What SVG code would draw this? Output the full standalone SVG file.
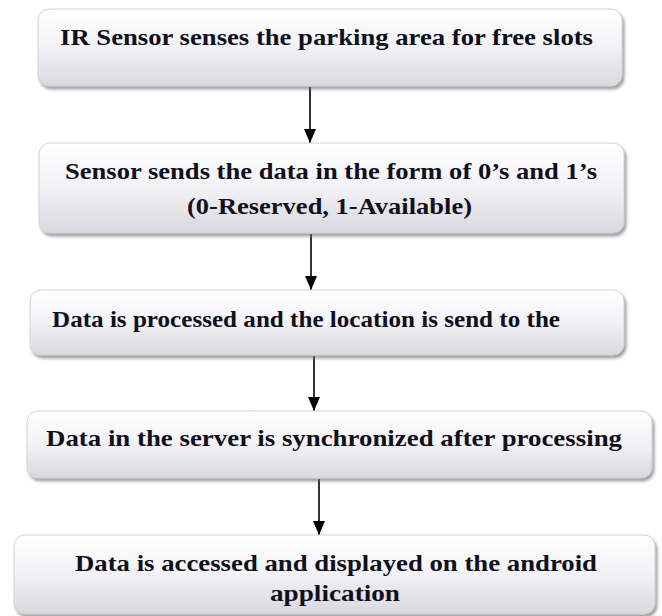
<svg xmlns="http://www.w3.org/2000/svg" width="662" height="616" viewBox="0 0 662 616">
  <defs>
    <linearGradient id="boxFill" x1="0" y1="0" x2="0" y2="1">
      <stop offset="0" stop-color="#ffffff"/>
      <stop offset="0.5" stop-color="#f2f1f5"/>
      <stop offset="1" stop-color="#d9d8df"/>
    </linearGradient>
    <filter id="shadow" x="-5%" y="-10%" width="112%" height="130%">
      <feDropShadow dx="2" dy="3" stdDeviation="1.8" flood-color="#6e6e6e" flood-opacity="0.65"/>
    </filter>
    <!-- solid triangular arrowhead, tip at the line end -->
    <marker id="arrow" markerWidth="14" markerHeight="12" refX="14" refY="6" orient="auto" markerUnits="userSpaceOnUse" viewBox="0 0 14 12">
      <path d="M0,0 L14,6 L0,12 Z" fill="#000"/>
    </marker>
  </defs>
  <style>
    .box { fill: url(#boxFill); stroke: #d2d2d8; stroke-width: 1; filter: url(#shadow); }
    .label { font-family: "Liberation Serif", "DejaVu Serif", serif; font-weight: bold; font-size: 24px; fill: #10101c; }
    .link { stroke: #000; stroke-width: 1.6; fill: none; marker-end: url(#arrow); }
  </style>

  <rect width="662" height="616" fill="#ffffff"/>

  <g id="connectors">
    <line class="link" x1="310" y1="87" x2="310" y2="143"/>
    <line class="link" x1="311" y1="234" x2="311" y2="290"/>
    <line class="link" x1="314" y1="356" x2="314" y2="411"/>
    <line class="link" x1="319" y1="479" x2="319" y2="535"/>
  </g>

  <g id="node-sense">
    <rect class="box" x="38" y="9" width="584" height="77" rx="11"/>
    <text class="label" x="60" y="45" textLength="533" lengthAdjust="spacingAndGlyphs">IR Sensor senses the parking area for free slots</text>
  </g>

  <g id="node-send">
    <rect class="box" x="39" y="143" width="585" height="90" rx="11"/>
    <text class="label" x="65" y="179" textLength="532" lengthAdjust="spacingAndGlyphs">Sensor sends the data in the form of 0’s and 1’s</text>
    <text class="label" x="187" y="214" textLength="285" lengthAdjust="spacingAndGlyphs">(0-Reserved, 1-Available)</text>
  </g>

  <g id="node-process">
    <rect class="box" x="30" y="290" width="594" height="65" rx="11"/>
    <text class="label" x="52" y="327" textLength="508" lengthAdjust="spacingAndGlyphs">Data is processed and the location is send to the</text>
  </g>

  <g id="node-sync">
    <rect class="box" x="27" y="411" width="625" height="67" rx="11"/>
    <text class="label" x="46" y="446" textLength="576" lengthAdjust="spacingAndGlyphs">Data in the server is synchronized after processing</text>
  </g>

  <g id="node-display">
    <rect class="box" x="14" y="535" width="641" height="79" rx="11"/>
    <text class="label" x="75" y="571" textLength="522" lengthAdjust="spacingAndGlyphs">Data is accessed and displayed on the android</text>
    <text class="label" x="270" y="601" textLength="130" lengthAdjust="spacingAndGlyphs">application</text>
  </g>
</svg>
